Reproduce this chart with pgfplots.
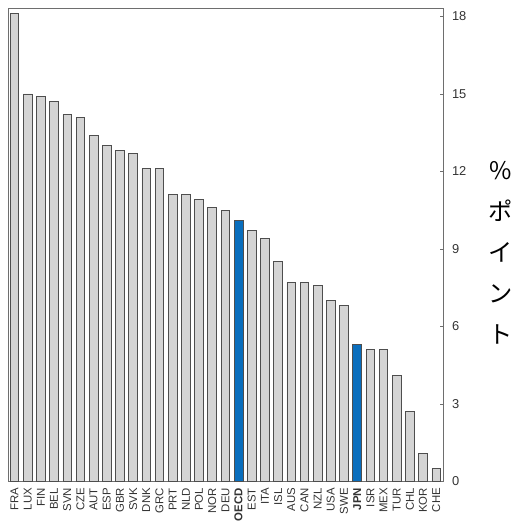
\documentclass[border=0pt]{standalone}
\usepackage{pgfplots}
\pgfplotsset{compat=1.18}
\usepackage{pgfplotstable}
\usepackage{fontspec}
\setmainfont{Liberation Sans}
\newfontfamily\jpfont{Noto Sans CJK JP}

\definecolor{barfill}{HTML}{D4D4D4}
\definecolor{baredge}{HTML}{4E4E4E}
\definecolor{hilite}{HTML}{0A6EBD}
\definecolor{axisgray}{HTML}{6E6E6E}

% countries (index, percentage points)
\pgfplotstableread{
x  y
0  18.1
1  15.0
2  14.9
3  14.7
4  14.2
5  14.1
6  13.4
7  13.0
8  12.8
9  12.7
10 12.1
11 12.1
12 11.1
13 11.1
14 10.9
15 10.6
16 10.5
18 9.7
19 9.4
20 8.5
21 7.7
22 7.7
23 7.6
24 7.0
25 6.8
27 5.1
28 5.1
29 4.1
30 2.7
31 1.1
32 0.5
}\countries

% highlighted: OECD average and Japan
\pgfplotstableread{
x  y
17 10.1
26 5.3
}\highlighted

\begin{document}
\begin{tikzpicture}
\begin{axis}[
  scale only axis,
  width=438.7bp, height=476.5bp,
  xmin=-0.5, xmax=32.58,
  ymin=0, ymax=18.33,
  axis line style={axisgray, line width=0.8bp},
  tick align=inside,
  ytick pos=right,
  yticklabel pos=right,
  ytick={0,3,...,18},
  major tick length=4bp,
  ytick style={axisgray, line width=0.8bp},
  xtick style={draw=none},
  /pgf/number format/assume math mode=true,
  yticklabel style={font=\fontsize{13}{15}\selectfont, text=black!80, inner sep=0pt},
  yticklabel shift=8bp,
  xtick={0,...,32},
  xticklabels={FRA,LUX,FIN,BEL,SVN,CZE,AUT,ESP,GBR,SVK,DNK,GRC,PRT,NLD,POL,NOR,DEU,\textbf{OECD},EST,ITA,ISL,AUS,CAN,NZL,USA,SWE,\textbf{JPN},ISR,MEX,TUR,CHL,KOR,CHE},
  xticklabel style={rotate=90, anchor=east, font=\fontsize{11.5}{13}\selectfont, text=black!80, inner sep=0pt},
  xticklabel shift=2.5bp,
  ylabel={\%\\ポ\\イ\\ン\\ト},
  every axis y label/.style={at={(axis description cs:1,0.483)}, anchor=center,
    xshift=57bp, align=center, font=\jpfont\fontsize{24.5}{41.5}\selectfont},
  ybar, bar width=0.66, bar shift=0pt,
]
\addplot[fill=barfill, draw=baredge, line width=0.8bp] table[x=x, y=y] {\countries};
\addplot[fill=hilite, draw=baredge, line width=0.8bp] table[x=x, y=y] {\highlighted};
\end{axis}
% page margins around the axis box
\path ([shift={(-8bp,-37bp)}]current axis.south west) rectangle ([shift={(71.3bp,8bp)}]current axis.north east);
\end{tikzpicture}
\end{document}
